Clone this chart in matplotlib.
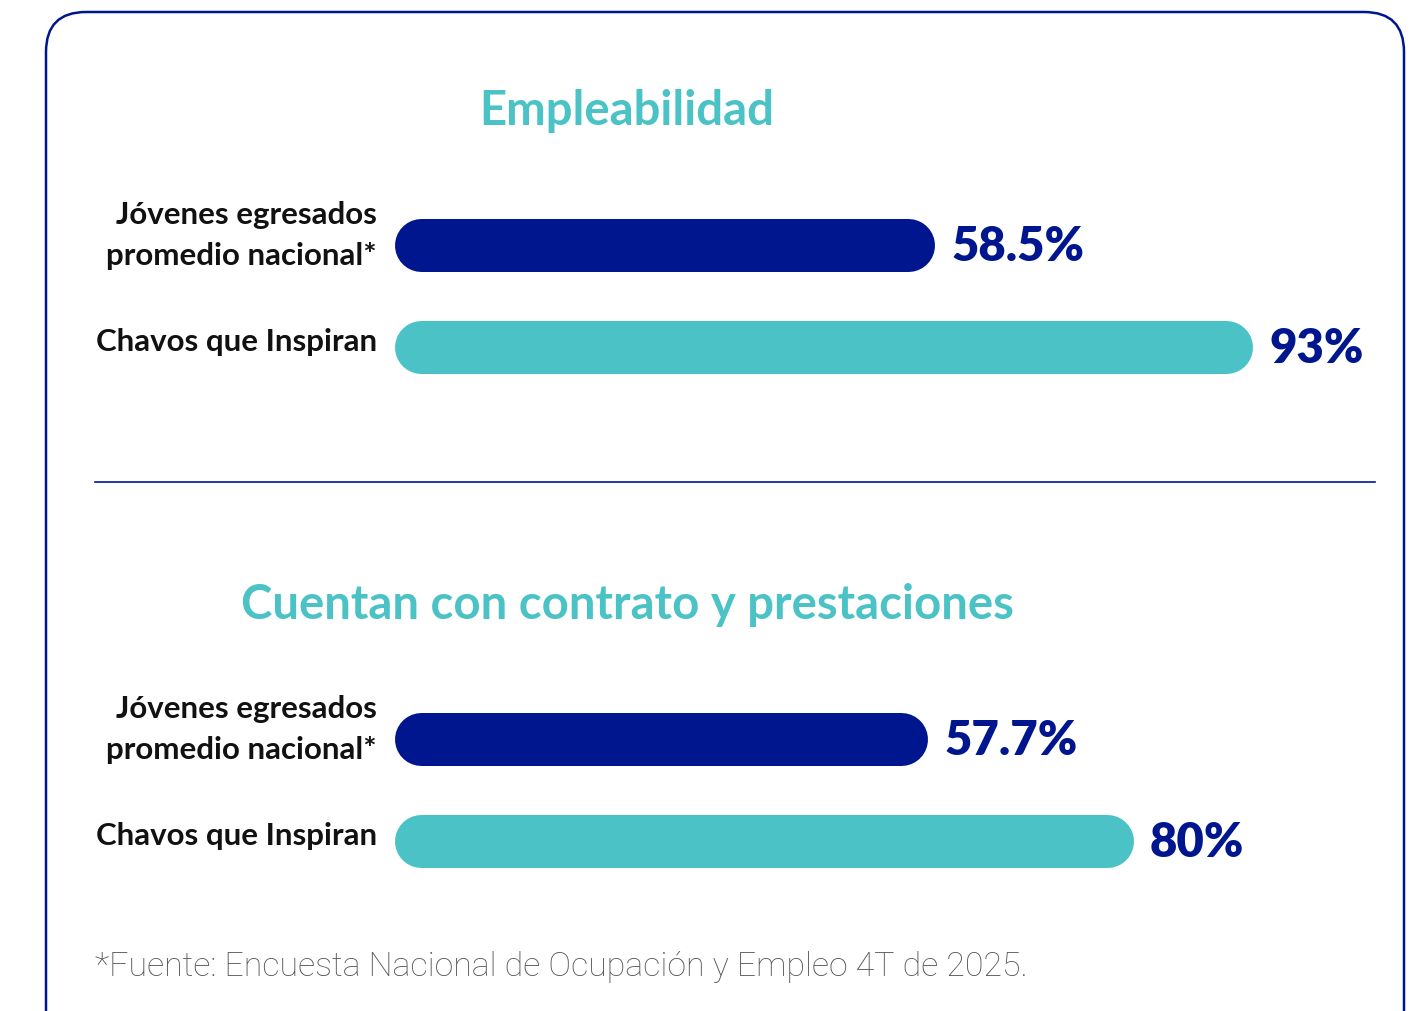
import matplotlib
matplotlib.use("Agg")
import matplotlib.pyplot as plt
from matplotlib.patches import FancyBboxPatch

# datos
titulos = ["Empleabilidad", "Cuentan con contrato y prestaciones"]
categorias = ["Jóvenes egresados\npromedio nacional*", "Chavos que Inspiran"]
empleabilidad = [58.5, 93]
contrato = [57.7, 80]
etiquetas_emp = ["58.5%", "93%"]
etiquetas_con = ["57.7%", "80%"]
nota = "*Fuente: Encuesta Nacional de Ocupación y Empleo 4T de 2025."

AZUL = "#00168F"
TURQUESA = "#4AC2C6"
W, H = 1426, 1011

fig = plt.figure(figsize=(W / 100, H / 100), dpi=100)
fig.patch.set_facecolor("white")


def fx(px):
    return px / W


def fy(py):
    return 1 - py / H


# marco redondeado
bg = fig.add_axes([0, 0, 1, 1])
bg.set_xlim(0, W)
bg.set_ylim(H, 0)
bg.axis("off")
bg.add_patch(FancyBboxPatch((46, 12), 1358, 1040,
                            boxstyle="round,pad=0,rounding_size=40",
                            fc="none", ec=AZUL, lw=1.8))
bg.plot([95, 1375], [482, 482], color=AZUL, lw=1.2)

BAR_X0 = 395
PX_POR_PUNTO = (1253 - 395) / 93
PASO = 102
ALTO = 53


def panel(centro_y, valores, etiquetas):
    alto_ax = 2 * PASO
    ancho_ax = 100 * PX_POR_PUNTO
    top = centro_y - alto_ax / 2
    ax = fig.add_axes([fx(BAR_X0), fy(top + alto_ax), ancho_ax / W, alto_ax / H])
    ax.set_xlim(0, 100)
    ax.set_ylim(1.5, -0.5)
    ax.axis("off")
    colores = [AZUL, TURQUESA]
    # barras con extremos redondos: linea gruesa con remate circular
    r = (ALTO / 2) / PX_POR_PUNTO
    grosor = ALTO * 72 / 100
    for i, (v, c) in enumerate(zip(valores, colores)):
        ax.plot([r, v - r], [i, i], color=c, lw=grosor, solid_capstyle="round")
    for i, (v, t) in enumerate(zip(valores, etiquetas)):
        ax.text(v + 17 / PX_POR_PUNTO, i + 0.02, t, ha="left", va="center",
                fontsize=34, fontweight="heavy", family="Lato", color=AZUL)
    fig.text(fx(377), fy(centro_y - PASO / 2 - 9), categorias[0], ha="right", va="center",
             fontsize=22.5, fontweight="bold", family="Lato", color="#111111",
             linespacing=1.55, multialignment="right")
    fig.text(fx(377), fy(centro_y + PASO / 2 - 5), categorias[1], ha="right", va="center",
             fontsize=22.5, fontweight="bold", family="Lato", color="#111111")


fig.text(fx(627), fy(111), titulos[0], ha="center", va="center",
         fontsize=34, fontweight="bold", family="Lato", color=TURQUESA)
panel(295.5, empleabilidad, etiquetas_emp)

fig.text(fx(627), fy(605), titulos[1], ha="center", va="center",
         fontsize=34, fontweight="bold", family="Lato", color=TURQUESA)
panel(789.5, contrato, etiquetas_con)

fig.text(fx(95), fy(967), nota, ha="left", va="center",
         fontsize=24.4, fontweight="light", family="Roboto", color="#555555")

fig.savefig("out.png", dpi=100)
